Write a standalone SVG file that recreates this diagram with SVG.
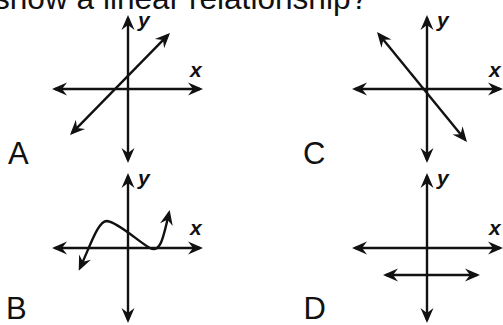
<svg xmlns="http://www.w3.org/2000/svg" width="503" height="325" viewBox="0 0 503 325">
<style>
.ln{stroke:#111;stroke-width:2.4;fill:none;marker-start:url(#ah);marker-end:url(#ah)}
.lbl{font-family:"Liberation Sans",Arial,sans-serif;font-size:31px;fill:#111}
.ax{font-family:"Liberation Sans",Arial,sans-serif;font-size:21px;font-weight:bold;font-style:italic;fill:#111}
</style>
<defs>
<marker id="ah" markerUnits="userSpaceOnUse" markerWidth="20" markerHeight="20" viewBox="-14 -8 20 16" refX="0" refY="0" orient="auto-start-reverse" overflow="visible">
<path d="M3,0 L-12,-6.5 L-7,0 L-12,6.5 Z" fill="#111"/>
</marker>
</defs>
<rect width="503" height="325" fill="#fff"/>
<text class="lbl" x="-6" y="9" style="font-size:31.6px">show a linear relationship?</text>
<g id="panelA">
<line class="ln" x1="55" y1="89" x2="200" y2="89"/>
<line class="ln" x1="128" y1="160" x2="128" y2="18"/>
<line class="ln" x1="72.1" y1="132.9" x2="167.9" y2="35.1"/>
<text class="ax" x="138" y="27">y</text>
<text class="ax" x="190" y="77">x</text>
<text class="lbl" x="8" y="164">A</text>
</g>
<g id="panelC">
<line class="ln" x1="355" y1="89" x2="500" y2="89"/>
<line class="ln" x1="427" y1="160" x2="427" y2="18"/>
<line class="ln" x1="378.9" y1="34.3" x2="465.1" y2="139.7"/>
<text class="ax" x="437" y="27">y</text>
<text class="ax" x="489" y="77">x</text>
<text class="lbl" x="303" y="164">C</text>
</g>
<g id="panelB">
<line class="ln" x1="55" y1="248" x2="200" y2="248"/>
<line class="ln" x1="128" y1="320" x2="128" y2="176"/>
<path class="ln" d="M80,268 C91,244 98,221 107,221 C118,222 140,243 150,248 C160,253 163,240 169,213"/>
<text class="ax" x="138" y="185">y</text>
<text class="ax" x="190" y="235">x</text>
<text class="lbl" x="6" y="319">B</text>
</g>
<g id="panelD">
<line class="ln" x1="355" y1="248" x2="500" y2="248"/>
<line class="ln" x1="427" y1="320" x2="427" y2="176"/>
<line class="ln" x1="386" y1="275" x2="477" y2="275"/>
<text class="ax" x="437" y="185">y</text>
<text class="ax" x="489" y="235">x</text>
<text class="lbl" x="303.5" y="319">D</text>
</g>
</svg>
